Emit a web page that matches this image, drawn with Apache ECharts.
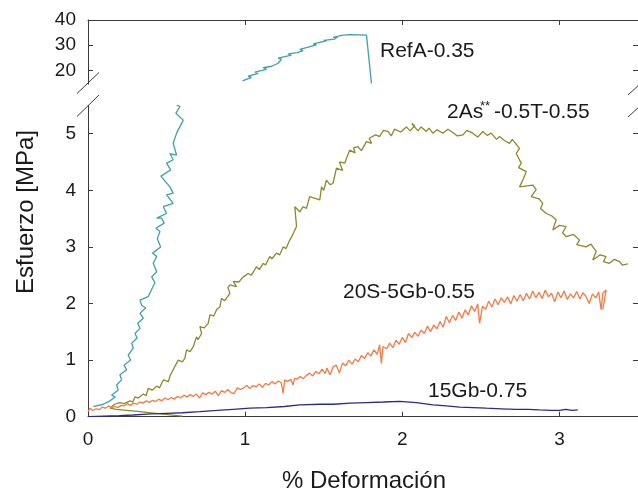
<!DOCTYPE html>
<html>
<head>
<meta charset="utf-8">
<script src="https://cdn.jsdelivr.net/npm/echarts@6/dist/echarts.min.js"></script>
<style>
  html, body { margin: 0; padding: 0; background: #fff; }
  #chart { width: 638px; height: 491px; }
</style>
</head>
<body>
<div id="chart"></div>
<script>
// Stress–strain curves, [strain %, stress MPa]
const refA_low = [
  [0.034,0.18],[0.097,0.22],[0.140,0.28],[0.172,0.35],[0.150,0.38],[0.193,0.47],[0.182,0.56],
  [0.214,0.65],[0.203,0.74],[0.246,0.83],[0.229,0.91],[0.271,1.00],[0.256,1.09],[0.288,1.21],
  [0.278,1.30],[0.313,1.39],[0.299,1.47],[0.331,1.56],[0.316,1.65],[0.352,1.74],[0.331,1.83],
  [0.367,1.92],[0.341,1.97],[0.331,2.06],[0.383,2.12],[0.426,2.37],[0.405,2.47],[0.437,2.56],
  [0.415,2.71],[0.437,2.83],[0.411,2.89],[0.462,3.00],[0.441,3.15],[0.458,3.27],[0.432,3.33],
  [0.485,3.42],[0.468,3.51],[0.437,3.51],[0.500,3.59],[0.479,3.71],[0.542,3.77],[0.500,3.92],
  [0.542,3.95],[0.521,4.06],[0.464,4.25],[0.526,4.36],[0.500,4.48],[0.542,4.54],[0.521,4.65],
  [0.564,4.62],[0.542,4.83],[0.564,5.01],[0.606,5.24],[0.559,5.36],[0.585,5.48],[0.564,5.51]
];
const refA_high = [
  [0.983,15.75],[1.040,17.2],[1.019,17.7],[1.083,18.8],[1.062,19.3],[1.136,20.4],[1.115,21.0],
  [1.170,21.6],[1.210,22.8],[1.231,24.4],[1.210,24.8],[1.295,26.0],[1.273,26.5],[1.330,27.0],
  [1.369,27.8],[1.348,28.3],[1.454,30.1],[1.433,30.5],[1.517,31.7],[1.500,31.9],[1.570,32.4],
  [1.591,33.4],[1.560,33.1],[1.613,33.9],[1.666,34.2],[1.772,34.0],[1.804,14.8]
];
const as2 = [
  [0.60,0.01],[0.46,0.05],[0.33,0.09],[0.18,0.13],[0.14,0.15],[0.17,0.22],[0.203,0.25],[0.23,0.23],
  [0.267,0.28],[0.285,0.26],[0.299,0.35],[0.32,0.33],[0.352,0.40],[0.37,0.37],[0.383,0.50],[0.41,0.47],
  [0.437,0.54],[0.455,0.51],[0.479,0.65],[0.511,0.62],[0.525,0.74],[0.542,0.83],[0.574,1.00],[0.60,0.97],
  [0.616,1.03],[0.627,1.18],[0.65,1.15],[0.670,1.24],[0.691,1.41],[0.70,1.36],[0.723,1.47],[0.712,1.59],
  [0.74,1.57],[0.765,1.65],[0.776,1.80],[0.80,1.78],[0.82,1.90],[0.839,1.94],[0.850,2.09],[0.87,2.05],
  [0.903,2.18],[0.89,2.28],[0.903,2.33],[0.945,2.30],[0.924,2.39],[0.96,2.38],[0.988,2.47],[1.019,2.53],
  [1.04,2.50],[1.072,2.65],[1.09,2.60],[1.115,2.71],[1.13,2.68],[1.157,2.83],[1.17,2.79],[1.200,2.89],
  [1.22,2.86],[1.242,3.00],[1.26,2.97],[1.284,3.12],[1.30,3.20],[1.327,3.36],[1.316,3.71],[1.348,3.62],
  [1.369,3.71],[1.39,3.68],[1.411,3.89],[1.44,3.86],[1.475,3.83],[1.486,4.06],[1.50,4.00],[1.517,4.18],
  [1.540,4.10],[1.559,4.12],[1.581,4.39],[1.620,4.35],[1.600,4.50],[1.634,4.48],[1.650,4.60],[1.666,4.71],
  [1.700,4.66],[1.690,4.75],[1.718,4.77],[1.740,4.70],[1.772,4.86],[1.804,4.83],[1.790,4.92],[1.830,4.98],
  [1.856,4.95],[1.880,5.06],[1.909,5.04],[1.930,4.96],[1.950,5.08],[1.962,5.10],[1.990,5.03],[2.026,5.12],
  [2.050,5.05],[2.079,5.14],[2.060,5.18],[2.100,5.05],[2.120,5.12],[2.153,5.04],[2.170,5.10],[2.195,5.01],
  [2.220,5.07],[2.259,5.01],[2.290,5.08],[2.322,5.02],[2.350,4.96],[2.386,4.98],[2.410,5.06],[2.449,5.01],
  [2.480,4.94],[2.513,5.04],[2.540,4.97],[2.566,5.01],[2.600,4.90],[2.619,4.95],[2.650,4.88],[2.683,4.83],
  [2.700,4.90],[2.746,4.74],[2.725,4.65],[2.757,4.48],[2.740,4.40],[2.789,4.33],[2.770,4.20],[2.746,4.06],
  [2.831,4.09],[2.852,4.01],[2.820,3.89],[2.870,3.85],[2.894,3.77],[2.880,3.68],[2.916,3.59],[2.950,3.55],
  [2.979,3.48],[2.958,3.30],[3.000,3.38],[3.043,3.36],[3.020,3.25],[3.043,3.18],[3.090,3.22],[3.128,3.12],
  [3.110,3.04],[3.170,3.00],[3.200,3.05],[3.234,2.92],[3.212,2.77],[3.260,2.86],[3.297,2.83],[3.280,2.74],
  [3.318,2.71],[3.350,2.78],[3.382,2.74],[3.400,2.68],[3.435,2.70]
];
const s20gb = [
  [0.000,0.09],[0.013,0.15],[0.03,0.11],[0.05,0.14],[0.076,0.13],[0.09,0.17],[0.11,0.15],[0.13,0.19],
  [0.15,0.16],[0.17,0.18],[0.19,0.16],[0.21,0.20],[0.23,0.19],[0.25,0.23],[0.27,0.20],[0.29,0.24],
  [0.31,0.22],[0.33,0.26],[0.35,0.24],[0.37,0.28],[0.39,0.25],[0.41,0.29],[0.43,0.27],[0.45,0.31],
  [0.47,0.28],[0.49,0.33],[0.51,0.30],[0.53,0.34],[0.55,0.31],[0.57,0.36],[0.59,0.33],[0.61,0.38],
  [0.63,0.35],[0.65,0.39],[0.67,0.36],[0.69,0.40],[0.71,0.33],[0.73,0.42],[0.75,0.39],[0.77,0.43],
  [0.79,0.40],[0.81,0.45],[0.83,0.37],[0.85,0.46],[0.87,0.43],[0.89,0.48],[0.91,0.42],[0.93,0.41],
  [0.95,0.51],[0.97,0.48],[0.99,0.51],[1.01,0.55],[1.03,0.50],[1.05,0.55],[1.07,0.53],[1.09,0.58],
  [1.11,0.52],[1.13,0.59],[1.15,0.56],[1.17,0.62],[1.19,0.58],[1.21,0.63],[1.23,0.60],[1.242,0.41],
  [1.252,0.65],[1.27,0.62],[1.29,0.66],[1.305,0.56],[1.315,0.68],[1.33,0.66],[1.35,0.71],[1.37,0.67],
  [1.39,0.73],[1.41,0.77],[1.43,0.72],[1.45,0.80],[1.47,0.76],[1.49,0.84],[1.51,0.76],[1.52,0.86],
  [1.54,0.74],[1.56,0.88],[1.58,0.91],[1.60,0.77],[1.62,0.95],[1.64,0.90],[1.66,1.00],[1.68,0.93],
  [1.70,1.02],[1.72,0.97],[1.74,1.08],[1.76,1.03],[1.78,1.13],[1.80,1.07],[1.82,1.18],[1.84,1.10],
  [1.856,1.27],[1.867,0.94],[1.877,1.24],[1.90,1.20],[1.92,1.30],[1.94,1.22],[1.96,1.35],[1.98,1.28],
  [2.00,1.40],[2.02,1.31],[2.04,1.47],[2.06,1.40],[2.08,1.49],[2.10,1.42],[2.12,1.53],[2.14,1.47],
  [2.16,1.60],[2.18,1.50],[2.20,1.62],[2.22,1.55],[2.24,1.68],[2.26,1.58],[2.28,1.77],[2.30,1.66],
  [2.32,1.79],[2.34,1.70],[2.36,1.85],[2.38,1.74],[2.40,1.89],[2.42,1.80],[2.44,1.96],[2.46,1.86],
  [2.48,1.99],[2.492,1.65],[2.51,1.95],[2.53,1.90],[2.55,2.04],[2.57,1.94],[2.59,2.08],[2.61,1.98],
  [2.63,2.10],[2.65,2.02],[2.67,2.12],[2.69,1.99],[2.71,2.14],[2.73,2.04],[2.75,2.16],[2.77,2.05],
  [2.79,2.18],[2.81,2.08],[2.83,2.22],[2.85,2.10],[2.87,2.20],[2.89,2.09],[2.91,2.24],[2.93,2.12],
  [2.95,2.18],[2.97,2.03],[2.99,2.20],[3.01,2.10],[3.03,2.22],[3.05,2.07],[3.07,2.17],[3.09,2.10],
  [3.11,2.21],[3.13,2.08],[3.15,2.19],[3.17,2.12],[3.19,2.00],[3.21,2.17],[3.23,2.10],[3.25,2.20],
  [3.265,1.89],[3.276,2.18],[3.297,2.24],[3.276,1.89]
];
const gb15 = [
  [0.000,0.00],[0.100,0.01],[0.200,0.02],[0.288,0.03],[0.400,0.05],[0.500,0.06],[0.600,0.07],
  [0.712,0.09],[0.820,0.11],[0.924,0.13],[1.030,0.15],[1.136,0.16],[1.250,0.18],[1.348,0.21],
  [1.475,0.22],[1.560,0.22],[1.670,0.24],[1.772,0.25],[1.880,0.26],[1.984,0.27],[2.090,0.25],
  [2.195,0.21],[2.280,0.19],[2.365,0.17],[2.450,0.16],[2.534,0.15],[2.630,0.14],[2.725,0.13],
  [2.800,0.13],[2.874,0.12],[2.950,0.11],[3.000,0.11],[3.040,0.13],[3.080,0.11],[3.117,0.12]
];

const xTicks = [0, 1, 2, 3];
const yTicksLow = [0, 1, 2, 3, 4, 5];
const yTicksHigh = [20, 30, 40];

const seriesNames = ['RefA-0.35', '2As**-0.5T-0.55', '20S-5Gb-0.55', '15Gb-0.75'];
const colors = { refA: '#3e9fae', as2: '#8b892b', s20: '#f27b44', gb15: '#2b2a86' };

const axisColor = '#3a3a3a';
const FONT = '"Liberation Sans", Arial, sans-serif';

const chart = echarts.init(document.getElementById('chart'), null, { renderer: 'canvas' });

const lineAxis = { show: true, lineStyle: { color: axisColor, width: 1 } };
const tickIn = (vals) => ({ show: true, inside: true, length: 5, customValues: vals, lineStyle: { color: axisColor, width: 1 } });
const tickLabel = (vals, margin) => ({ customValues: vals, fontSize: 19, margin, color: '#1a1a1a', fontFamily: FONT });

function line(name, data, color, xi, yi) {
  return {
    name, type: 'line', data, xAxisIndex: xi, yAxisIndex: yi,
    showSymbol: false, symbol: 'none', smooth: false, clip: true,
    lineStyle: { color, width: 1.3 }, animation: false
  };
}

chart.setOption({
  backgroundColor: '#ffffff',
  animation: false,
  grid: [
    { left: 88, top: 20, width: 550.5, height: 64.1 },
    { left: 88, top: 105.4, width: 550.5, height: 311.3 }
  ],
  xAxis: [
    { gridIndex: 0, type: 'value', min: 0, max: 3.5, position: 'top',
      axisLine: lineAxis, axisTick: tickIn(xTicks), axisLabel: { show: false }, splitLine: { show: false } },
    { gridIndex: 1, type: 'value', min: 0, max: 3.5, position: 'bottom',
      axisLine: lineAxis, axisTick: tickIn(xTicks), axisLabel: tickLabel(xTicks, 14), splitLine: { show: false } }
  ],
  yAxis: [
    { gridIndex: 0, type: 'value', min: 14.5, max: 40, position: 'left',
      axisLine: lineAxis, axisTick: tickIn(yTicksHigh), axisLabel: tickLabel(yTicksHigh, 12), splitLine: { show: false } },
    { gridIndex: 0, type: 'value', min: 14.5, max: 40, position: 'right',
      axisLine: lineAxis, axisTick: tickIn(yTicksHigh), axisLabel: { show: false }, splitLine: { show: false } },
    { gridIndex: 1, type: 'value', min: 0, max: 5.5, position: 'left',
      axisLine: lineAxis, axisTick: tickIn(yTicksLow), axisLabel: tickLabel(yTicksLow, 12), splitLine: { show: false } },
    { gridIndex: 1, type: 'value', min: 0, max: 5.5, position: 'right',
      axisLine: lineAxis, axisTick: tickIn(yTicksLow), axisLabel: { show: false }, splitLine: { show: false } }
  ],
  series: [
    line(seriesNames[0], refA_high, colors.refA, 0, 0),
    line(seriesNames[0], refA_low, colors.refA, 1, 2),
    line(seriesNames[1], as2, colors.as2, 1, 2),
    line(seriesNames[2], s20gb, colors.s20, 1, 2),
    line(seriesNames[3], gb15, colors.gb15, 1, 2)
  ],
  graphic: [
    // axis break marks
    { type: 'line', shape: { x1: 77, y1: 93.5, x2: 99, y2: 72.5 }, style: { stroke: axisColor, lineWidth: 1 } },
    { type: 'line', shape: { x1: 77, y1: 116.5, x2: 99, y2: 95 }, style: { stroke: axisColor, lineWidth: 1 } },
    { type: 'line', shape: { x1: 628, y1: 95, x2: 640, y2: 84 }, style: { stroke: axisColor, lineWidth: 1 } },
    { type: 'line', shape: { x1: 628, y1: 117, x2: 640, y2: 106 }, style: { stroke: axisColor, lineWidth: 1 } },
    // axis titles
    { type: 'text', x: 364, y: 481,
      style: { text: '% Deformación', font: '24px ' + FONT, fill: '#1a1a1a', align: 'center', verticalAlign: 'middle' } },
    { type: 'text', x: 26, y: 212, rotation: Math.PI / 2,
      style: { text: 'Esfuerzo [MPa]', font: '24px ' + FONT, fill: '#1a1a1a', align: 'center', verticalAlign: 'middle' } },
    // curve labels
    { type: 'text', x: 380, y: 51,
      style: { text: 'RefA-0.35', font: '21px ' + FONT, fill: '#1a1a1a', align: 'left', verticalAlign: 'middle' } },
    { type: 'text', x: 447, y: 112,
      style: { text: '2As', font: '21px ' + FONT, fill: '#1a1a1a', align: 'left', verticalAlign: 'middle' } },
    { type: 'text', x: 480, y: 106,
      style: { text: '**', font: '13px ' + FONT, fill: '#1a1a1a', align: 'left', verticalAlign: 'middle' } },
    { type: 'text', x: 494, y: 112,
      style: { text: '-0.5T-0.55', font: '21px ' + FONT, fill: '#1a1a1a', align: 'left', verticalAlign: 'middle' } },
    { type: 'text', x: 343, y: 292,
      style: { text: '20S-5Gb-0.55', font: '21px ' + FONT, fill: '#1a1a1a', align: 'left', verticalAlign: 'middle' } },
    { type: 'text', x: 428, y: 391,
      style: { text: '15Gb-0.75', font: '21px ' + FONT, fill: '#1a1a1a', align: 'left', verticalAlign: 'middle' } }
  ]
});
</script>
</body>
</html>
